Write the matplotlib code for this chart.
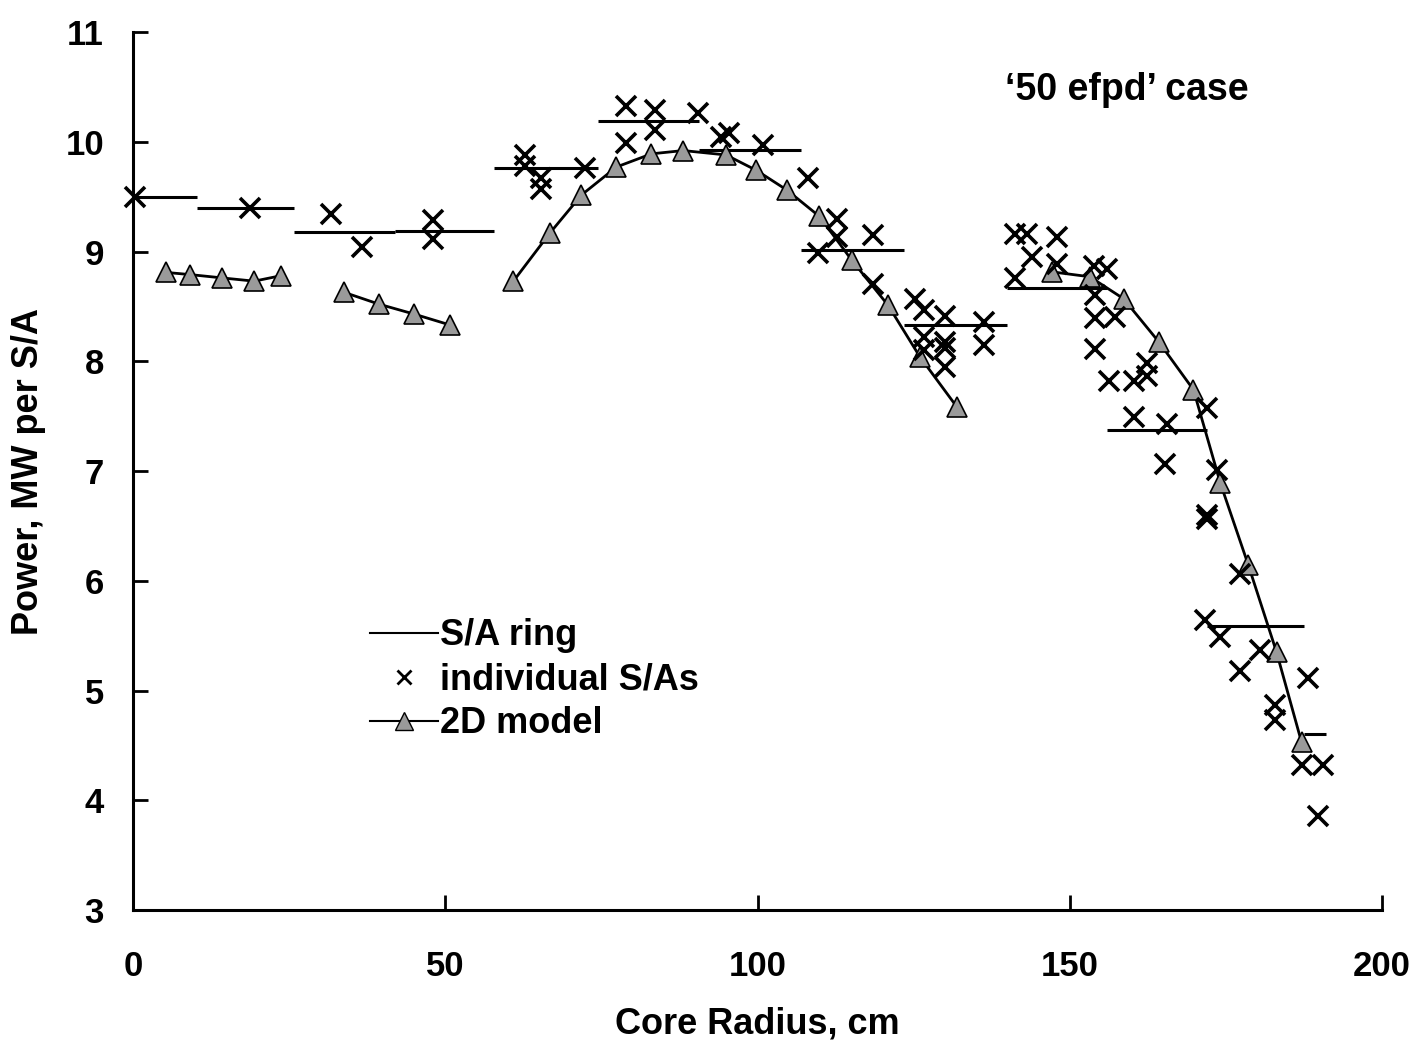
import matplotlib
matplotlib.use("Agg")
from matplotlib import pyplot as plt
from matplotlib.lines import Line2D

plt.rcParams['font.family'] = ['Liberation Sans', 'DejaVu Sans']
plt.rcParams['font.weight'] = 'bold'

# S/A ring averages: radial extent of each ring and its power
ring_lo = [0, 10.3, 25.7, 42.0, 57.8, 74.5, 90.7, 107.0, 123.4, 140.0, 156.0, 172.0, 187.5]
ring_hi = [10.3, 25.7, 42.0, 57.8, 74.5, 90.7, 107.0, 123.4, 140.0, 156.0, 172.0, 187.5, 191.0]
ring_power = [9.50, 9.40, 9.175, 9.19, 9.76, 10.19, 9.925, 9.01, 8.33, 8.665, 7.37, 5.59, 4.60]

# individual subassembly powers
sa_r = [0.3, 18.8, 31.7, 36.6, 48.0, 48.0, 62.8, 62.8, 65.4, 65.4,
        72.4, 79.0, 79.0, 83.6, 83.6, 90.5, 94.2, 95.4, 100.9, 108.1,
        109.7, 112.7, 112.7, 118.5, 118.5, 125.2, 126.6, 130.0, 126.6, 126.6,
        130.0, 130.0, 130.0, 136.3, 136.3, 141.2, 143.1, 147.9, 143.9, 147.9,
        141.2, 153.8, 155.9, 154.0, 154.0, 157.2, 154.0, 156.2, 160.2, 162.4,
        162.4, 160.2, 165.5, 165.2, 171.9, 173.5, 171.9, 171.9, 177.3, 171.7,
        174.1, 180.5, 177.3, 188.2, 182.9, 182.9, 187.1, 190.6, 189.8]
sa_power = [9.50, 9.40, 9.34, 9.04, 9.29, 9.11, 9.88, 9.78, 9.67, 9.57,
            9.76, 10.33, 9.99, 10.29, 10.11, 10.26, 10.04, 10.08, 9.97, 9.67,
            8.99, 9.30, 9.13, 9.15, 8.70, 8.57, 8.47, 8.41, 8.22, 8.10,
            8.18, 8.12, 7.95, 8.36, 8.15, 9.16, 9.16, 9.13, 8.95, 8.89,
            8.76, 8.87, 8.84, 8.60, 8.39, 8.40, 8.11, 7.82, 7.82, 7.98,
            7.87, 7.49, 7.43, 7.06, 7.57, 7.01, 6.60, 6.56, 6.06, 5.64,
            5.49, 5.37, 5.18, 5.11, 4.87, 4.73, 4.32, 4.32, 3.86]

# 2D model, one curve per core zone
zone1_r = [5.2, 9.1, 14.2, 19.4, 23.7]
zone1_p = [8.81, 8.79, 8.76, 8.73, 8.78]
zone2_r = [33.7, 39.4, 45.0, 50.8]
zone2_p = [8.63, 8.52, 8.43, 8.33]
zone3_r = [60.9, 66.7, 71.8, 77.4, 83.0, 88.1, 94.95, 99.8, 104.7, 109.9, 115.1, 120.9, 126.0, 131.9]
zone3_p = [8.73, 9.165, 9.515, 9.77, 9.89, 9.92, 9.88, 9.74, 9.56, 9.32, 8.92, 8.51, 8.04, 7.585]
zone4_r = [147.1, 153.2, 158.6, 164.2, 169.8, 174.1, 178.6, 183.1, 187.1]
zone4_p = [8.815, 8.77, 8.57, 8.18, 7.74, 6.89, 6.14, 5.35, 4.53]

fig = plt.figure(figsize=(14.2, 10.43), dpi=100)
ax = fig.add_axes([0.0937, 0.1275, 0.8796, 0.8418])

tri = dict(marker='^', markersize=14, markerfacecolor='#9a9a9a',
           markeredgecolor='black', markeredgewidth=1.2)

ax.hlines(ring_power, ring_lo, ring_hi, colors='black', linewidth=2.2)

for zr, zp in [(zone1_r, zone1_p), (zone2_r, zone2_p), (zone3_r, zone3_p), (zone4_r, zone4_p)]:
    ax.plot(zr, zp, color='black', linewidth=2.0, **tri)

ax.plot(sa_r, sa_power, linestyle='none', marker='x', markersize=14,
        markeredgewidth=2.6, color='black', clip_on=False)

ax.set_xlim(0, 200)
ax.set_ylim(3, 11)
ax.set_xticks([0, 50, 100, 150, 200])
ax.set_yticks(range(3, 12))
ax.spines['top'].set_visible(False)
ax.spines['right'].set_visible(False)
ax.spines['left'].set_linewidth(2.2)
ax.spines['bottom'].set_linewidth(2.2)
ax.tick_params(axis='both', direction='in', length=11, width=2, labelsize=25)
ax.tick_params(axis='x', pad=29)
ax.tick_params(axis='y', pad=21)

ax.set_xlabel('Core Radius, cm', fontsize=26, fontweight='bold', labelpad=17)
ax.set_ylabel('Power, MW per S/A', fontsize=26, fontweight='bold', labelpad=14)

ax.text(0.698, 0.934, '\u201850 efpd\u2019 case', transform=ax.transAxes,
        fontsize=27, fontweight='bold', va='center', ha='left')

handles = [
    Line2D([], [], color='black', linewidth=1.5),
    Line2D([], [], linestyle='none', marker='x', markersize=10, markeredgewidth=2, color='black'),
    Line2D([], [], color='black', linewidth=1.5, marker='^', markersize=13,
           markerfacecolor='#9a9a9a', markeredgecolor='black', markeredgewidth=1.0),
]
ax.legend(handles, ['S/A ring', 'individual S/As', '2D model'], loc='upper left',
          bbox_to_anchor=(0.1756, 0.353), frameon=False, fontsize=26,
          handlelength=1.86, handletextpad=0.08, labelspacing=0.25, borderpad=0)

fig.savefig('out.png', dpi=100)
